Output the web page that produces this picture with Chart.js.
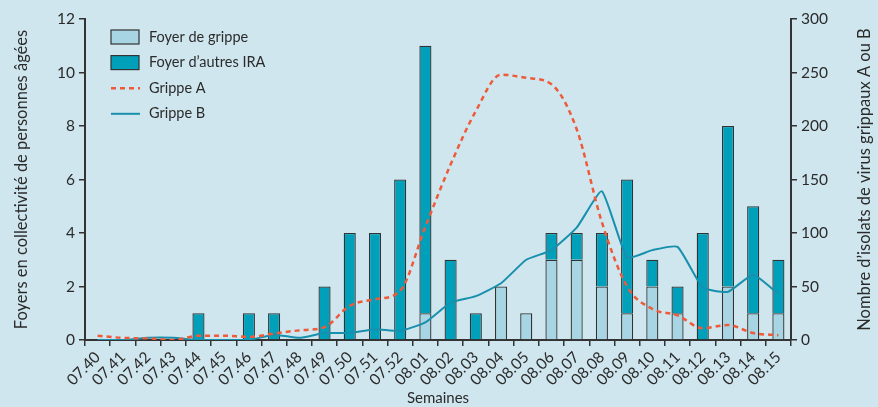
<!DOCTYPE html>
<html><head><meta charset="utf-8">
<script src="https://cdn.jsdelivr.net/npm/chart.js@4/dist/chart.umd.min.js"></script>
<style>
html,body{margin:0;padding:0;background:#cfe6ee;}
#wrap{position:relative;width:878px;height:407px;}
</style></head>
<body><div id="wrap"><canvas id="c" width="878" height="407"></canvas></div>
<script>
const weeks = ['07.40','07.41','07.42','07.43','07.44','07.45','07.46','07.47','07.48','07.49','07.50','07.51','07.52',
  '08.01','08.02','08.03','08.04','08.05','08.06','08.07','08.08','08.09','08.10','08.11','08.12','08.13','08.14','08.15'];
const foyerGrippe = [0,0,0,0,0,0,0,0,0,0,0,0,0, 1,0,0,2,1,3,3,2,1,2,1,0,2,1,1];
const foyerAutresIRA = [0,0,0,0,1,0,1,1,0,2,4,4,6, 10,3,1,0,0,1,1,2,5,1,1,4,6,4,2];
const grippeA = [4,2,1.5,0,4,4,3,6,9,12,32,38,46, 106,164,214,248,245,239,197,110,50,29,23,11,14,6.5,4.5];
const grippeB = [0,0,2,2,0,0,0,5,2,6.5,6.5,10,8.5, 16.5,35,41,53,75,84,105,139,77,84,87,49,45,61,43];
const leftTicks = [0,2,4,6,8,10,12];
const rightTicks = [0,50,100,150,200,250,300];
const leftTitle = 'Foyers en collectivit\u00e9 de personnes \u00e2g\u00e9es';
const rightTitle = 'Nombre d\u2019isolats de virus grippaux A ou B';

const FONT = 'Lato, "Liberation Sans", sans-serif';
const TXT = '#2b2b2b';
const AX = '#333333';
const DARK = '#00a0bb';
const LIGHT = '#a8d5e3';
const RED = '#ef5a3a';
const TEAL = '#1890ad';

function vText(ctx, text, x, y) {
  ctx.save();
  ctx.translate(x, y);
  ctx.rotate(-Math.PI / 2);
  ctx.textAlign = 'center';
  ctx.textBaseline = 'middle';
  ctx.font = '16.5px ' + FONT;
  ctx.fillStyle = TXT;
  ctx.fillText(text, 0, 0);
  ctx.restore();
}

const legendPlugin = {
  id: 'customLegend',
  afterDraw(chart) {
    const ctx = chart.ctx;
    ctx.save();
    const items = chart.data.datasets;
    const x0 = 111, y0 = 37, dy = 25.6;
    items.forEach((d, k) => {
      const y = y0 + k * dy;
      if (d.type === 'bar') {
        ctx.fillStyle = d.backgroundColor;
        ctx.fillRect(x0, y - 7, 28, 14);
        ctx.strokeStyle = AX; ctx.lineWidth = 1.2;
        ctx.strokeRect(x0, y - 7, 28, 14);
      } else {
        ctx.strokeStyle = d.borderColor; ctx.lineWidth = d.borderWidth;
        ctx.setLineDash(d.borderDash || []);
        ctx.beginPath(); ctx.moveTo(x0, y); ctx.lineTo(x0 + 29, y); ctx.stroke();
        ctx.setLineDash([]);
      }
      ctx.fillStyle = TXT;
      ctx.font = '14.5px ' + FONT;
      ctx.textBaseline = 'middle';
      ctx.textAlign = 'left';
      ctx.fillText(d.label, 149, y);
    });
    ctx.restore();
    const ca = chart.chartArea;
    const mid = (ca.top + ca.bottom) / 2;
    vText(ctx, leftTitle, 22, mid);
    vText(ctx, rightTitle, 865, mid);
  }
};

new Chart(document.getElementById('c'), {
  type: 'bar',
  data: {
    labels: weeks,
    datasets: [
      { type: 'bar', label: 'Foyer de grippe', data: foyerGrippe, backgroundColor: LIGHT, borderColor: AX, borderWidth: 1.3, yAxisID: 'y', stack: 's', order: 2 },
      { type: 'bar', label: 'Foyer d\u2019autres IRA', data: foyerAutresIRA, backgroundColor: DARK, borderColor: AX, borderWidth: 1.3, yAxisID: 'y', stack: 's', order: 2 },
      { type: 'line', label: 'Grippe A', data: grippeA, borderColor: RED, borderWidth: 2.5, borderDash: [5,4], pointRadius: 0, cubicInterpolationMode: 'monotone', fill: false, yAxisID: 'y1', order: 1 },
      { type: 'line', label: 'Grippe B', data: grippeB, borderColor: TEAL, borderWidth: 2, pointRadius: 0, tension: 0.15, fill: false, yAxisID: 'y1', order: 1 }
    ]
  },
  options: {
    responsive: false,
    animation: false,
    layout: { padding: { top: 19, left: 0, right: 0, bottom: 0 } },
    datasets: { bar: { barPercentage: 0.48, categoryPercentage: 1 } },
    plugins: { legend: { display: false }, tooltip: { enabled: false } },
    scales: {
      x: {
        stacked: true,
        grid: { drawOnChartArea: false, drawTicks: true, tickLength: 6, color: AX, lineWidth: 1.5, offset: true },
        border: { color: AX, width: 2 },
        ticks: { color: TXT, font: { family: FONT, size: 15.5 }, minRotation: 45, maxRotation: 45, autoSkip: false, padding: 2 },
        title: { display: true, text: 'Semaines', color: TXT, font: { family: FONT, size: 15 }, padding: { top: 0, bottom: 0 } },
        afterFit(s) { s.height = 67; }
      },
      y: {
        stacked: true, min: 0, max: 12, position: 'left',
        afterBuildTicks(s) { s.ticks = leftTicks.map(v => ({ value: v })); },
        grid: { drawOnChartArea: false, drawTicks: true, tickLength: 6, color: AX, lineWidth: 1.5 },
        border: { color: AX, width: 2 },
        ticks: { color: TXT, font: { family: FONT, size: 15.5 }, padding: 4 },
        afterFit(s) { s.width = 85; }
      },
      y1: {
        min: 0, max: 300, position: 'right',
        afterBuildTicks(s) { s.ticks = rightTicks.map(v => ({ value: v })); },
        grid: { drawOnChartArea: false, drawTicks: true, tickLength: 6, color: AX, lineWidth: 1.5 },
        border: { color: AX, width: 2 },
        ticks: { color: TXT, font: { family: FONT, size: 15.5 }, padding: 4 },
        afterFit(s) { s.width = 87; }
      }
    }
  },
  plugins: [legendPlugin]
});
</script></body></html>
